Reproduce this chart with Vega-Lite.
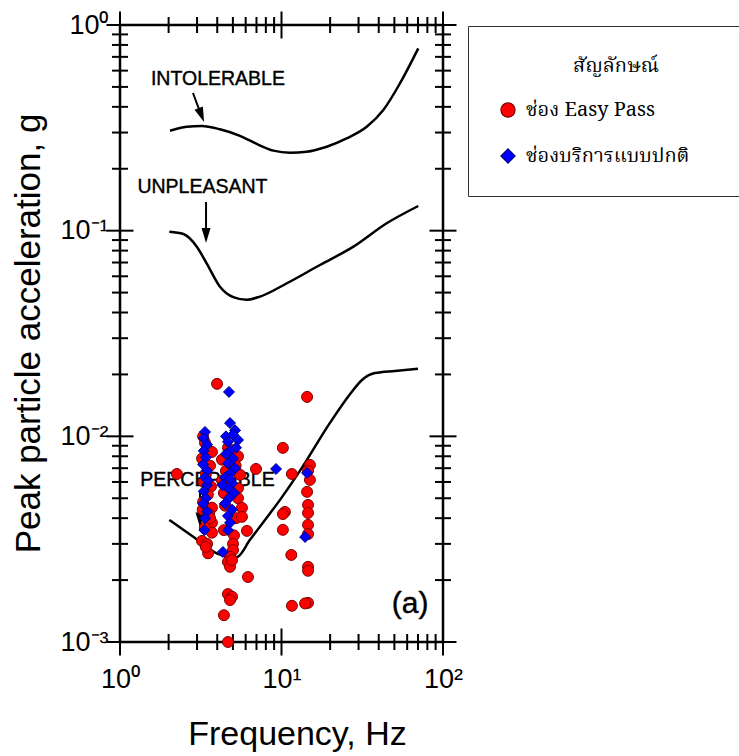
{
  "$schema": "https://vega.github.io/schema/vega-lite/v6.json",
  "autosize": "none",
  "padding": {"left": 120, "top": 25, "right": 296, "bottom": 114},
  "width": 323,
  "height": 617,
  "background": "white",
  "config": {
    "view": {"stroke": "black", "strokeWidth": 2.5},
    "font": "Liberation Sans",
    "axis": {"domain": false, "grid": false, "ticks": false, "labelColor": "black", "titleColor": "black", "labelFont": "Liberation Sans", "titleFont": "Liberation Sans", "labelFlush": false, "labelOverlap": false, "labelBound": false},
    "tick": {"color": "black", "thickness": 2, "opacity": 1, "clip": true}
  },
  "datasets": {
    "xminor": [{"t": 2}, {"t": 3}, {"t": 4}, {"t": 5}, {"t": 6}, {"t": 7}, {"t": 8}, {"t": 9}, {"t": 20}, {"t": 30}, {"t": 40}, {"t": 50}, {"t": 60}, {"t": 70}, {"t": 80}, {"t": 90}],
    "xmajor": [{"t": 1}, {"t": 10}, {"t": 100}],
    "yminor": [{"t": 0.002}, {"t": 0.003}, {"t": 0.004}, {"t": 0.005}, {"t": 0.006}, {"t": 0.007}, {"t": 0.008}, {"t": 0.009}, {"t": 0.02}, {"t": 0.03}, {"t": 0.04}, {"t": 0.05}, {"t": 0.06}, {"t": 0.07}, {"t": 0.08}, {"t": 0.09}, {"t": 0.2}, {"t": 0.3}, {"t": 0.4}, {"t": 0.5}, {"t": 0.6}, {"t": 0.7}, {"t": 0.8}, {"t": 0.9}],
    "ymajor": [{"t": 0.001}, {"t": 0.01}, {"t": 0.1}, {"t": 1}],
    "curves": [
      {"curve": "INT", "f": 2.04, "a": 0.306}, {"curve": "INT", "f": 2.59, "a": 0.320}, {"curve": "INT", "f": 3.21, "a": 0.323}, {"curve": "INT", "f": 4.16, "a": 0.311}, {"curve": "INT", "f": 5.53, "a": 0.289}, {"curve": "INT", "f": 7.02, "a": 0.264}, {"curve": "INT", "f": 8.90, "a": 0.245}, {"curve": "INT", "f": 11.3, "a": 0.2394}, {"curve": "INT", "f": 14.3, "a": 0.242}, {"curve": "INT", "f": 19.05, "a": 0.256}, {"curve": "INT", "f": 25.3, "a": 0.281}, {"curve": "INT", "f": 33.7, "a": 0.320}, {"curve": "INT", "f": 42.7, "a": 0.386}, {"curve": "INT", "f": 54.2, "a": 0.521}, {"curve": "INT", "f": 70.3, "a": 0.770},
      {"curve": "UNP", "f": 2.02, "a": 0.0989}, {"curve": "UNP", "f": 2.47, "a": 0.0964}, {"curve": "UNP", "f": 2.99, "a": 0.0836}, {"curve": "UNP", "f": 3.44, "a": 0.0694}, {"curve": "UNP", "f": 4.16, "a": 0.0534}, {"curve": "UNP", "f": 5.03, "a": 0.0475}, {"curve": "UNP", "f": 6.09, "a": 0.0461}, {"curve": "UNP", "f": 7.36, "a": 0.0478}, {"curve": "UNP", "f": 10.8, "a": 0.0555}, {"curve": "UNP", "f": 17.3, "a": 0.0681}, {"curve": "UNP", "f": 27.9, "a": 0.0836}, {"curve": "UNP", "f": 44.8, "a": 0.1086}, {"curve": "UNP", "f": 70.3, "a": 0.1318},
      {"curve": "PER", "f": 2.02, "a": 0.00392}, {"curve": "PER", "f": 2.84, "a": 0.00325}, {"curve": "PER", "f": 3.97, "a": 0.0027}, {"curve": "PER", "f": 4.47, "a": 0.00262}, {"curve": "PER", "f": 5.28, "a": 0.00259}, {"curve": "PER", "f": 6.38, "a": 0.00314}, {"curve": "PER", "f": 7.90, "a": 0.00392}, {"curve": "PER", "f": 9.79, "a": 0.00491}, {"curve": "PER", "f": 13.0, "a": 0.00679}, {"curve": "PER", "f": 19.95, "a": 0.01162}, {"curve": "PER", "f": 26.6, "a": 0.01606}, {"curve": "PER", "f": 31.5, "a": 0.0188}, {"curve": "PER", "f": 37.9, "a": 0.0203}, {"curve": "PER", "f": 50.4, "a": 0.0208}, {"curve": "PER", "f": 70.0, "a": 0.0213}
    ],
    "arrows": [
      {"arrow": "i", "f": 2.83, "a": 0.467}, {"arrow": "i", "f": 3.13, "a": 0.378},
      {"arrow": "u", "f": 3.41, "a": 0.1379}, {"arrow": "u", "f": 3.41, "a": 0.0986},
      {"arrow": "p", "f": 3.13, "a": 0.00537}, {"arrow": "p", "f": 3.13, "a": 0.00415}
    ],
    "heads": [
      {"arrow": "i", "f": 3.19, "a": 0.365},
      {"arrow": "u", "f": 3.41, "a": 0.0947},
      {"arrow": "p", "f": 3.13, "a": 0.00392}
    ],
    "labels": [
      {"label": "INTOLERABLE", "f": 4.04, "a": 0.546},
      {"label": "UNPLEASANT", "f": 3.24, "a": 0.163},
      {"label": "PERCEPTIBLE", "f": 3.48, "a": 0.00614},
      {"label": "(a)", "f": 62.5, "a": 0.00153}
    ],
    "obs": [
      {"type": "ช่อง Easy Pass", "f": 3.27, "a": 0.0100}, {"type": "ช่อง Easy Pass", "f": 3.36, "a": 0.0093}, {"type": "ช่อง Easy Pass", "f": 3.46, "a": 0.0086}, {"type": "ช่อง Easy Pass", "f": 3.71, "a": 0.0084}, {"type": "ช่อง Easy Pass", "f": 3.22, "a": 0.0078}, {"type": "ช่อง Easy Pass", "f": 3.61, "a": 0.0072}, {"type": "ช่อง Easy Pass", "f": 3.40, "a": 0.0066}, {"type": "ช่อง Easy Pass", "f": 3.30, "a": 0.0060}, {"type": "ช่อง Easy Pass", "f": 3.66, "a": 0.0057}, {"type": "ช่อง Easy Pass", "f": 3.50, "a": 0.0052}, {"type": "ช่อง Easy Pass", "f": 3.27, "a": 0.0048}, {"type": "ช่อง Easy Pass", "f": 3.71, "a": 0.0045}, {"type": "ช่อง Easy Pass", "f": 3.56, "a": 0.0042}, {"type": "ช่อง Easy Pass", "f": 3.71, "a": 0.0038}, {"type": "ช่อง Easy Pass", "f": 3.35, "a": 0.0036}, {"type": "ช่อง Easy Pass", "f": 3.71, "a": 0.0034}, {"type": "ช่อง Easy Pass", "f": 3.22, "a": 0.0031}, {"type": "ช่อง Easy Pass", "f": 3.46, "a": 0.0030}, {"type": "ช่อง Easy Pass", "f": 3.51, "a": 0.0027}, {"type": "ช่อง Easy Pass", "f": 3.40, "a": 0.0029}, {"type": "ช่อง Easy Pass", "f": 3.61, "a": 0.0040}, {"type": "ช่อง Easy Pass", "f": 3.25, "a": 0.0044},
      {"type": "ช่อง Easy Pass", "f": 3.99, "a": 0.0180}, {"type": "ช่อง Easy Pass", "f": 4.66, "a": 0.0088}, {"type": "ช่อง Easy Pass", "f": 5.38, "a": 0.0080}, {"type": "ช่อง Easy Pass", "f": 4.28, "a": 0.0077}, {"type": "ช่อง Easy Pass", "f": 5.53, "a": 0.0065}, {"type": "ช่อง Easy Pass", "f": 4.28, "a": 0.0061}, {"type": "ช่อง Easy Pass", "f": 5.38, "a": 0.0056}, {"type": "ช่อง Easy Pass", "f": 4.40, "a": 0.0053}, {"type": "ช่อง Easy Pass", "f": 5.38, "a": 0.0050}, {"type": "ช่อง Easy Pass", "f": 4.47, "a": 0.0046}, {"type": "ช่อง Easy Pass", "f": 5.23, "a": 0.0040}, {"type": "ช่อง Easy Pass", "f": 4.40, "a": 0.0035}, {"type": "ช่อง Easy Pass", "f": 5.08, "a": 0.0033}, {"type": "ช่อง Easy Pass", "f": 5.01, "a": 0.0030}, {"type": "ช่อง Easy Pass", "f": 5.01, "a": 0.0028}, {"type": "ช่อง Easy Pass", "f": 4.80, "a": 0.0026}, {"type": "ช่อง Easy Pass", "f": 4.66, "a": 0.00245}, {"type": "ช่อง Easy Pass", "f": 4.80, "a": 0.00232}, {"type": "ช่อง Easy Pass", "f": 4.94, "a": 0.0025}, {"type": "ช่อง Easy Pass", "f": 4.66, "a": 0.00171}, {"type": "ช่อง Easy Pass", "f": 4.94, "a": 0.00166}, {"type": "ช่อง Easy Pass", "f": 4.80, "a": 0.00160}, {"type": "ช่อง Easy Pass", "f": 4.40, "a": 0.00135}, {"type": "ช่อง Easy Pass", "f": 4.66, "a": 0.00100}, {"type": "ช่อง Easy Pass", "f": 5.69, "a": 0.00449}, {"type": "ช่อง Easy Pass", "f": 5.69, "a": 0.00406}, {"type": "ช่อง Easy Pass", "f": 6.11, "a": 0.00347}, {"type": "ช่อง Easy Pass", "f": 6.20, "a": 0.00207}, {"type": "ช่อง Easy Pass", "f": 4.53, "a": 0.0068}, {"type": "ช่อง Easy Pass", "f": 5.20, "a": 0.0072},
      {"type": "ช่อง Easy Pass", "f": 2.25, "a": 0.00656}, {"type": "ช่อง Easy Pass", "f": 6.95, "a": 0.00694}, {"type": "ช่อง Easy Pass", "f": 10.2, "a": 0.00879}, {"type": "ช่อง Easy Pass", "f": 11.6, "a": 0.00656}, {"type": "ช่อง Easy Pass", "f": 10.5, "a": 0.00429}, {"type": "ช่อง Easy Pass", "f": 10.2, "a": 0.00419}, {"type": "ช่อง Easy Pass", "f": 10.2, "a": 0.00351}, {"type": "ช่อง Easy Pass", "f": 11.5, "a": 0.00265}, {"type": "ช่อง Easy Pass", "f": 11.6, "a": 0.00150},
      {"type": "ช่อง Easy Pass", "f": 14.4, "a": 0.01555}, {"type": "ช่อง Easy Pass", "f": 15.0, "a": 0.00726}, {"type": "ช่อง Easy Pass", "f": 15.0, "a": 0.00614}, {"type": "ช่อง Easy Pass", "f": 14.4, "a": 0.00537}, {"type": "ช่อง Easy Pass", "f": 14.6, "a": 0.00464}, {"type": "ช่อง Easy Pass", "f": 14.6, "a": 0.00424}, {"type": "ช่อง Easy Pass", "f": 14.6, "a": 0.00371}, {"type": "ช่อง Easy Pass", "f": 14.6, "a": 0.00335}, {"type": "ช่อง Easy Pass", "f": 14.6, "a": 0.00232}, {"type": "ช่อง Easy Pass", "f": 14.6, "a": 0.00222}, {"type": "ช่อง Easy Pass", "f": 14.6, "a": 0.00155}, {"type": "ช่อง Easy Pass", "f": 14.0, "a": 0.00154}, {"type": "ช่อง Easy Pass", "f": 14.6, "a": 0.0068},
      {"type": "ช่องบริการแบบปกติ", "f": 4.73, "a": 0.01644}, {"type": "ช่องบริการแบบปกติ", "f": 9.25, "a": 0.00694}, {"type": "ช่องบริการแบบปกติ", "f": 14.4, "a": 0.00664}, {"type": "ช่องบริการแบบปกติ", "f": 14.0, "a": 0.00324},
      {"type": "ช่องบริการแบบปกติ", "f": 3.36, "a": 0.0105}, {"type": "ช่องบริการแบบปกติ", "f": 3.30, "a": 0.0098}, {"type": "ช่องบริการแบบปกติ", "f": 3.46, "a": 0.0091}, {"type": "ช่องบริการแบบปกติ", "f": 3.30, "a": 0.0085}, {"type": "ช่องบริการแบบปกติ", "f": 3.40, "a": 0.0079}, {"type": "ช่องบริการแบบปกติ", "f": 3.27, "a": 0.0073}, {"type": "ช่องบริการแบบปกติ", "f": 3.46, "a": 0.0068}, {"type": "ช่องบริการแบบปกติ", "f": 3.36, "a": 0.0063}, {"type": "ช่องบริการแบบปกติ", "f": 3.46, "a": 0.0058}, {"type": "ช่องบริการแบบปกติ", "f": 3.30, "a": 0.0054}, {"type": "ช่องบริการแบบปกติ", "f": 3.40, "a": 0.0050}, {"type": "ช่องบริการแบบปกติ", "f": 3.46, "a": 0.0043}, {"type": "ช่องบริการแบบปกติ", "f": 3.36, "a": 0.0040}, {"type": "ช่องบริการแบบปกติ", "f": 3.33, "a": 0.0035}, {"type": "ช่องบริการแบบปกติ", "f": 3.27, "a": 0.0047}, {"type": "ช่องบริการแบบปกติ", "f": 3.50, "a": 0.0061},
      {"type": "ช่องบริการแบบปกติ", "f": 4.80, "a": 0.0116}, {"type": "ช่องบริการแบบปกติ", "f": 5.16, "a": 0.0107}, {"type": "ช่องบริการแบบปกติ", "f": 5.38, "a": 0.0096}, {"type": "ช่องบริการแบบปกติ", "f": 4.53, "a": 0.0100}, {"type": "ช่องบริการแบบปกติ", "f": 5.00, "a": 0.0102}, {"type": "ช่องบริการแบบปกติ", "f": 4.66, "a": 0.0094}, {"type": "ช่องบริการแบบปกติ", "f": 5.23, "a": 0.0088}, {"type": "ช่องบริการแบบปกติ", "f": 4.80, "a": 0.0085}, {"type": "ช่องบริการแบบปกติ", "f": 4.53, "a": 0.0082}, {"type": "ช่องบริการแบบปกติ", "f": 5.01, "a": 0.0078}, {"type": "ช่องบริการแบบปกติ", "f": 4.66, "a": 0.0074}, {"type": "ช่องบริการแบบปกติ", "f": 5.16, "a": 0.0070}, {"type": "ช่องบริการแบบปกติ", "f": 4.80, "a": 0.0066}, {"type": "ช่องบริการแบบปกติ", "f": 4.47, "a": 0.0063}, {"type": "ช่องบริการแบบปกติ", "f": 4.94, "a": 0.0059}, {"type": "ช่องบริการแบบปกติ", "f": 4.66, "a": 0.0056}, {"type": "ช่องบริการแบบปกติ", "f": 5.08, "a": 0.0053}, {"type": "ช่องบริการแบบปกติ", "f": 4.73, "a": 0.0050}, {"type": "ช่องบริการแบบปกติ", "f": 4.47, "a": 0.0047}, {"type": "ช่องบริการแบบปกติ", "f": 4.94, "a": 0.0044}, {"type": "ช่องบริการแบบปกติ", "f": 4.66, "a": 0.0041}, {"type": "ช่องบริการแบบปกติ", "f": 4.80, "a": 0.0038}, {"type": "ช่องบริการแบบปกติ", "f": 4.66, "a": 0.0035}, {"type": "ช่องบริการแบบปกติ", "f": 4.34, "a": 0.00274}, {"type": "ช่องบริการแบบปกติ", "f": 4.80, "a": 0.0062}, {"type": "ช่องบริการแบบปกติ", "f": 4.30, "a": 0.0058}
    ]
  },
  "layer": [
    {
      "data": {"name": "curves"},
      "mark": {"type": "line", "color": "black", "strokeWidth": 2.5, "interpolate": "monotone"},
      "encoding": {
        "x": {"field": "f", "type": "quantitative", "scale": {"type": "log", "domain": [1, 100], "nice": false},
          "axis": {"orient": "bottom", "values": [1, 10, 100],
            "labelExpr": "datum.value == 1 ? '10⁰' : datum.value == 10 ? '10¹' : '10²'",
            "labelPadding": 24, "labelFontSize": 27, "labelAngle": 0,
            "title": "Frequency, Hz", "titleFontSize": 34, "titleFontWeight": "normal", "titleX": 177, "titleY": 102, "titleBaseline": "alphabetic"}},
        "y": {"field": "a", "type": "quantitative", "scale": {"type": "log", "domain": [0.001, 1], "nice": false},
          "axis": {"orient": "left", "values": [0.001, 0.01, 0.1, 1],
            "labelExpr": "datum.value == 1 ? '10⁰' : datum.value == 0.1 ? '10⁻¹' : datum.value == 0.01 ? '10⁻²' : '10⁻³'",
            "labelPadding": 12, "labelFontSize": 27,
            "title": "Peak particle acceleration, g", "titleFontSize": 35, "titleFontWeight": "normal", "titleX": -81, "titleY": 308, "titleAngle": -90, "titleBaseline": "alphabetic", "titleAlign": "center"}},
        "detail": {"field": "curve"}
      }
    },
    {
      "data": {"name": "xminor"},
      "mark": {"type": "tick", "orient": "vertical", "size": 16},
      "encoding": {"x": {"field": "t", "type": "quantitative", "axis": null}, "y": {"datum": 0.001, "type": "quantitative", "axis": null}}
    },
    {
      "data": {"name": "xminor"},
      "mark": {"type": "tick", "orient": "vertical", "size": 16},
      "encoding": {"x": {"field": "t", "type": "quantitative", "axis": null}, "y": {"datum": 1, "type": "quantitative", "axis": null}}
    },
    {
      "data": {"name": "xmajor"},
      "mark": {"type": "tick", "orient": "vertical", "size": 27},
      "encoding": {"x": {"field": "t", "type": "quantitative", "axis": null}, "y": {"datum": 0.001, "type": "quantitative", "axis": null}}
    },
    {
      "data": {"name": "xmajor"},
      "mark": {"type": "tick", "orient": "vertical", "size": 27},
      "encoding": {"x": {"field": "t", "type": "quantitative", "axis": null}, "y": {"datum": 1, "type": "quantitative", "axis": null}}
    },
    {
      "data": {"name": "yminor"},
      "mark": {"type": "tick", "orient": "horizontal", "size": 16},
      "encoding": {"y": {"field": "t", "type": "quantitative", "axis": null}, "x": {"datum": 1, "type": "quantitative", "axis": null}}
    },
    {
      "data": {"name": "yminor"},
      "mark": {"type": "tick", "orient": "horizontal", "size": 16},
      "encoding": {"y": {"field": "t", "type": "quantitative", "axis": null}, "x": {"datum": 100, "type": "quantitative", "axis": null}}
    },
    {
      "data": {"name": "ymajor"},
      "mark": {"type": "tick", "orient": "horizontal", "size": 27},
      "encoding": {"y": {"field": "t", "type": "quantitative", "axis": null}, "x": {"datum": 1, "type": "quantitative", "axis": null}}
    },
    {
      "data": {"name": "ymajor"},
      "mark": {"type": "tick", "orient": "horizontal", "size": 27},
      "encoding": {"y": {"field": "t", "type": "quantitative", "axis": null}, "x": {"datum": 100, "type": "quantitative", "axis": null}}
    },
    {
      "data": {"name": "arrows"},
      "mark": {"type": "line", "color": "black", "strokeWidth": 2},
      "encoding": {
        "x": {"field": "f", "type": "quantitative", "axis": null},
        "y": {"field": "a", "type": "quantitative", "axis": null},
        "detail": {"field": "arrow"}
      }
    },
    {
      "data": {"name": "heads"},
      "transform": [{"filter": "datum.arrow == 'i'"}],
      "mark": {"type": "point", "shape": "M -0.6 -1 L 0.6 -1 L 0 1 Z", "filled": true, "color": "black", "size": 225, "angle": -21, "opacity": 1},
      "encoding": {
        "x": {"field": "f", "type": "quantitative", "axis": null},
        "y": {"field": "a", "type": "quantitative", "axis": null}
      }
    },
    {
      "data": {"name": "heads"},
      "transform": [{"filter": "datum.arrow != 'i'"}],
      "mark": {"type": "point", "shape": "M -0.6 -1 L 0.6 -1 L 0 1 Z", "filled": true, "color": "black", "size": 225, "opacity": 1},
      "encoding": {
        "x": {"field": "f", "type": "quantitative", "axis": null},
        "y": {"field": "a", "type": "quantitative", "axis": null}
      }
    },
    {
      "data": {"name": "labels"},
      "mark": {"type": "text", "font": "Liberation Sans", "align": "center", "baseline": "middle", "color": "black", "stroke": "black", "strokeWidth": 0.4},
      "encoding": {
        "x": {"field": "f", "type": "quantitative", "axis": null},
        "y": {"field": "a", "type": "quantitative", "axis": null},
        "text": {"field": "label"},
        "size": {"condition": {"test": "datum.label == '(a)'", "value": 30}, "value": 19.5}
      }
    },
    {
      "data": {"name": "obs"},
      "mark": {"type": "point", "filled": true, "opacity": 1, "size": 120, "strokeWidth": 1},
      "encoding": {
        "x": {"field": "f", "type": "quantitative", "axis": null},
        "y": {"field": "a", "type": "quantitative", "axis": null},
        "fill": {"field": "type", "type": "nominal", "sort": null,
          "scale": {"domain": ["ช่อง Easy Pass", "ช่องบริการแบบปกติ"], "range": ["#ff0000", "#0000ff"]},
          "legend": {"orient": "none", "legendX": 348, "legendY": 1, "title": "สัญลักษณ์",
            "titleFont": "Noto Serif Thai, Noto Sans Thai, Tlwg Typo, Garuda, Loma, serif", "titleFontSize": 20, "titleFontWeight": "normal", "titleAnchor": "middle", "titlePadding": 24, "titleColor": "black",
            "labelFont": "Noto Serif Thai, Noto Sans Thai, Tlwg Typo, Garuda, Loma, serif", "labelFontSize": 20, "labelColor": "black", "labelLimit": 600, "labelOffset": 8,
            "labelExpr": "datum.label + '\u2800\u2800\u2800'",
            "symbolSize": 200, "symbolStrokeColor": "black", "symbolStrokeWidth": 1.2,
            "rowPadding": 26, "padding": 30, "strokeColor": "#333333", "fillColor": "white"}},
        "shape": {"field": "type", "type": "nominal", "sort": null,
          "scale": {"domain": ["ช่อง Easy Pass", "ช่องบริการแบบปกติ"], "range": ["circle", "diamond"]}},
        "stroke": {"field": "type", "type": "nominal",
          "scale": {"domain": ["ช่อง Easy Pass", "ช่องบริการแบบปกติ"], "range": ["#800000", "#00007a"]}, "legend": null}
      }
    }
  ],
  "resolve": {"axis": {"x": "independent", "y": "independent"}}
}
